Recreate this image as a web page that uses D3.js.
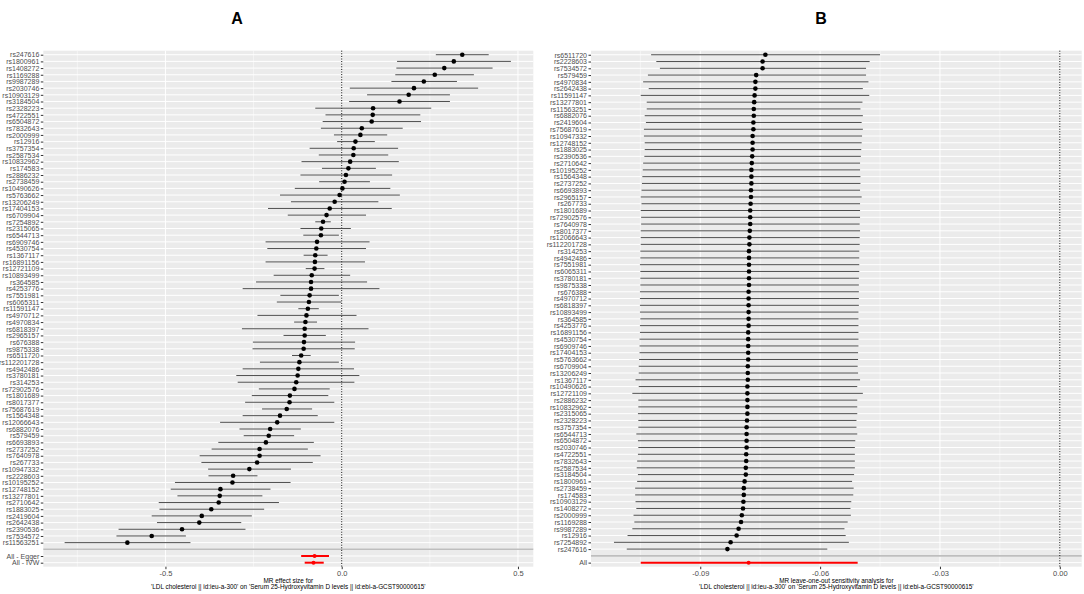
<!DOCTYPE html>
<html lang="en">
<head>
<meta charset="UTF-8">
<title>MR forest plots</title>
<script src="https://d3js.org/d3.v7.min.js"></script>
<style>
  body { margin: 0; background: #fff; font-family: "Liberation Sans", Arial, sans-serif; }
  svg { display: block; }
  .tick text { fill: #4d4d4d; }
  .tick line { stroke: #333; }
  .domain { display: none; }
  .grid-major { stroke: #fff; stroke-width: 1; }
  .grid-minor { stroke: #fff; stroke-width: 0.5; }
</style>
</head>
<body>
<svg width="1084" height="594"></svg>
<script>
// ---- Panel A: single SNP MR effects ----
const snpsA = ["rs247616","rs1800961","rs1408272","rs1169288","rs9987289","rs2030746","rs10903129","rs3184504","rs2328223","rs4722551",
  "rs6504872","rs7832643","rs2000999","rs12916","rs3757354","rs2587534","rs10832962","rs174583","rs2886232","rs2738459",
  "rs10490626","rs5763662","rs13206249","rs17404153","rs6709904","rs7254892","rs2315065","rs6544713","rs6909746","rs4530754",
  "rs1367117","rs16891156","rs12721109","rs10893499","rs364585","rs4253776","rs7551981","rs6065311","rs11591147","rs4970712",
  "rs4970834","rs6818397","rs2965157","rs676388","rs9875338","rs6511720","rs112201728","rs4942486","rs3780181","rs314253",
  "rs72902576","rs1801689","rs8017377","rs75687619","rs1564348","rs12066643","rs6882076","rs579459","rs6693893","rs2737252",
  "rs7640978","rs267733","rs10947332","rs2228603","rs10195252","rs12748152","rs13277801","rs2710642","rs1883025","rs2419604",
  "rs2642438","rs2390536","rs7534572","rs11563251"];
const betaA = [0.342, 0.318, 0.291, 0.264, 0.233, 0.205, 0.190, 0.164, 0.089, 0.088,
  0.085, 0.057, 0.053, 0.039, 0.034, 0.033, 0.024, 0.019, 0.012, 0.008,
  0.002, -0.006, -0.020, -0.034, -0.043, -0.053, -0.058, -0.059, -0.070, -0.072,
  -0.075, -0.076, -0.077, -0.085, -0.087, -0.087, -0.091, -0.093, -0.096, -0.100,
  -0.103, -0.105, -0.105, -0.107, -0.108, -0.115, -0.120, -0.123, -0.125, -0.129,
  -0.134, -0.147, -0.148, -0.156, -0.175, -0.183, -0.203, -0.207, -0.215, -0.233,
  -0.233, -0.240, -0.262, -0.308, -0.310, -0.344, -0.346, -0.349, -0.370, -0.397,
  -0.404, -0.453, -0.539, -0.608];
const lowA = [0.267, 0.157, 0.155, 0.152, 0.141, 0.023, 0.072, 0.021, -0.075, -0.046,
  -0.054, -0.059, -0.022, -0.013, -0.091, -0.065, -0.114, -0.056, -0.117, -0.064,
  -0.133, -0.175, -0.144, -0.209, -0.153, -0.075, -0.117, -0.109, -0.216, -0.211,
  -0.108, -0.216, -0.102, -0.193, -0.243, -0.281, -0.174, -0.184, -0.123, -0.239,
  -0.135, -0.283, -0.165, -0.252, -0.253, -0.141, -0.232, -0.281, -0.299, -0.295,
  -0.235, -0.255, -0.274, -0.226, -0.281, -0.345, -0.290, -0.278, -0.350, -0.369,
  -0.403, -0.398, -0.379, -0.378, -0.473, -0.485, -0.466, -0.519, -0.517, -0.539,
  -0.524, -0.633, -0.639, -0.786];
const highA = [0.417, 0.480, 0.428, 0.375, 0.327, 0.387, 0.307, 0.307, 0.254, 0.223,
  0.225, 0.173, 0.129, 0.094, 0.160, 0.132, 0.162, 0.097, 0.143, 0.080,
  0.138, 0.165, 0.104, 0.142, 0.069, -0.031, 0.026, -0.008, 0.079, 0.069,
  -0.040, 0.066, -0.049, 0.024, 0.072, 0.107, -0.008, -0.001, -0.065, 0.042,
  -0.070, 0.076, -0.045, 0.038, 0.037, -0.088, -0.008, 0.035, 0.050, 0.036,
  -0.034, -0.038, -0.021, -0.084, -0.068, -0.021, -0.116, -0.135, -0.079, -0.096,
  -0.060, -0.082, -0.144, -0.239, -0.145, -0.202, -0.225, -0.178, -0.220, -0.255,
  -0.285, -0.273, -0.442, -0.429];
const sumNamesA = ["All - Egger", "All - IVW"];
const sumBetaA = [-0.077, -0.080];
const sumLowA = [-0.115, -0.105];
const sumHighA = [-0.036, -0.051];
const ticksA = [-0.5, 0, 0.5];

// ---- Panel B: leave-one-out ----
const snpsB = ["rs6511720","rs2228603","rs7534572","rs579459","rs4970834","rs2642438","rs11591147","rs13277801","rs11563251","rs6882076",
  "rs2419604","rs75687619","rs10947332","rs12748152","rs1883025","rs2390536","rs2710642","rs10195252","rs1564348","rs2737252",
  "rs6693893","rs2965157","rs267733","rs1801689","rs72902576","rs7640978","rs8017377","rs12066643","rs112201728","rs314253",
  "rs4942486","rs7551981","rs6065311","rs3780181","rs9875338","rs676388","rs4970712","rs6818397","rs10893499","rs364585",
  "rs4253776","rs16891156","rs4530754","rs6909746","rs17404153","rs5763662","rs6709904","rs13206249","rs1367117","rs10490626",
  "rs12721109","rs2886232","rs10832962","rs2315065","rs2328223","rs3757354","rs6544713","rs6504872","rs2030746","rs4722551",
  "rs7832643","rs2587534","rs3184504","rs1800961","rs2738459","rs174583","rs10903129","rs1408272","rs2000999","rs1169288",
  "rs9987289","rs12916","rs7254892","rs247616"];
const betaB = [-0.0737, -0.0744, -0.0744, -0.0760, -0.0762, -0.0762, -0.0764, -0.0765, -0.0766, -0.0766,
  -0.0767, -0.0767, -0.0769, -0.0769, -0.0769, -0.0770, -0.0771, -0.0772, -0.0772, -0.0772,
  -0.0773, -0.0773, -0.0774, -0.0775, -0.0775, -0.0775, -0.0776, -0.0777, -0.0777, -0.0778,
  -0.0778, -0.0778, -0.0778, -0.0778, -0.0778, -0.0779, -0.0779, -0.0779, -0.0779, -0.0779,
  -0.0779, -0.0780, -0.0780, -0.0780, -0.0780, -0.0780, -0.0781, -0.0781, -0.0781, -0.0782,
  -0.0782, -0.0782, -0.0782, -0.0782, -0.0783, -0.0784, -0.0784, -0.0784, -0.0784, -0.0785,
  -0.0785, -0.0786, -0.0786, -0.0789, -0.0791, -0.0791, -0.0792, -0.0793, -0.0796, -0.0798,
  -0.0804, -0.0809, -0.0824, -0.0832];
const lowB = [-0.1023, -0.1010, -0.1001, -0.1031, -0.1043, -0.1029, -0.1049, -0.1034, -0.1034, -0.1039,
  -0.1036, -0.1041, -0.1041, -0.1039, -0.1039, -0.1040, -0.1043, -0.1044, -0.1045, -0.1046,
  -0.1047, -0.1049, -0.1047, -0.1049, -0.1048, -0.1048, -0.1049, -0.1049, -0.1049, -0.1050,
  -0.1050, -0.1051, -0.1050, -0.1050, -0.1050, -0.1051, -0.1051, -0.1051, -0.1051, -0.1050,
  -0.1051, -0.1051, -0.1052, -0.1052, -0.1052, -0.1053, -0.1054, -0.1054, -0.1062, -0.1054,
  -0.1070, -0.1055, -0.1055, -0.1056, -0.1055, -0.1055, -0.1060, -0.1056, -0.1055, -0.1056,
  -0.1058, -0.1059, -0.1056, -0.1058, -0.1063, -0.1063, -0.1062, -0.1060, -0.1067, -0.1065,
  -0.1070, -0.1082, -0.1116, -0.1084];
const highB = [-0.0450, -0.0476, -0.0485, -0.0485, -0.0479, -0.0493, -0.0477, -0.0494, -0.0499, -0.0493,
  -0.0496, -0.0493, -0.0495, -0.0496, -0.0497, -0.0498, -0.0500, -0.0500, -0.0499, -0.0499,
  -0.0500, -0.0496, -0.0500, -0.0500, -0.0500, -0.0501, -0.0500, -0.0501, -0.0501, -0.0502,
  -0.0502, -0.0502, -0.0502, -0.0503, -0.0503, -0.0503, -0.0503, -0.0503, -0.0504, -0.0504,
  -0.0504, -0.0504, -0.0504, -0.0504, -0.0505, -0.0505, -0.0506, -0.0505, -0.0500, -0.0507,
  -0.0493, -0.0507, -0.0507, -0.0507, -0.0509, -0.0509, -0.0507, -0.0512, -0.0513, -0.0513,
  -0.0513, -0.0513, -0.0515, -0.0520, -0.0516, -0.0517, -0.0522, -0.0524, -0.0523, -0.0531,
  -0.0539, -0.0536, -0.0528, -0.0582];
const sumNamesB = ["All"];
const sumBetaB = [-0.0779];
const sumLowB = [-0.1049];
const sumHighB = [-0.0506];
const ticksB = [-0.09, -0.06, -0.03, 0];

const exposureLine = "'LDL cholesterol || id:ieu-a-300' on 'Serum 25-Hydroxyvitamin D levels || id:ebi-a-GCST90000615'";

const svg = d3.select('svg');
const FONT = '"Liberation Sans", Arial, sans-serif';

function drawPanel(p) {
  const g = svg.append('g');
  const top = 50.7, bottom = 566.7;

  const x = d3.scaleLinear().domain(p.xDomain).range([p.left, p.right]);

  // blank category between the SNP rows and the summary rows
  const rows = p.snps.map((s, i) => ({ name: s, b: p.beta[i], lo: p.low[i], hi: p.high[i] }));
  const sums = p.sumNames.map((s, i) => ({ name: s, b: p.sumBeta[i], lo: p.sumLow[i], hi: p.sumHigh[i] }));
  const cats = p.snps.concat(['_sep'], p.sumNames);
  const y = d3.scalePoint().domain(cats).range([top, bottom]).padding(0.6);

  // panel background
  g.append('rect').attr('x', p.left).attr('y', top)
    .attr('width', p.right - p.left).attr('height', bottom - top).attr('fill', '#ebebeb');

  // minor vertical grid (midpoints between ticks)
  const step = p.ticks[1] - p.ticks[0];
  const minor = [];
  for (let v = p.ticks[0] - step / 2; v <= p.xDomain[1]; v += step) {
    if (v >= p.xDomain[0]) minor.push(v);
  }
  g.selectAll('.gm').data(minor).enter().append('line')
    .attr('class', 'grid-minor')
    .attr('x1', d => x(d)).attr('x2', d => x(d)).attr('y1', top).attr('y2', bottom);

  g.selectAll('.gx').data(p.ticks).enter().append('line')
    .attr('class', 'grid-major')
    .attr('x1', d => x(d)).attr('x2', d => x(d)).attr('y1', top).attr('y2', bottom);

  g.selectAll('.gy').data(cats).enter().append('line')
    .attr('class', 'grid-major')
    .attr('x1', p.left).attr('x2', p.right).attr('y1', d => y(d)).attr('y2', d => y(d));

  // separator line
  g.append('line')
    .attr('x1', p.left).attr('x2', p.right)
    .attr('y1', y('_sep')).attr('y2', y('_sep'))
    .attr('stroke', '#bebebe').attr('stroke-width', 1.6);

  // zero reference line
  g.append('line')
    .attr('x1', x(0)).attr('x2', x(0)).attr('y1', top).attr('y2', bottom)
    .attr('stroke', '#000').attr('stroke-width', 1).attr('stroke-dasharray', '1,1.6');

  // confidence intervals and estimates
  g.selectAll('.ci').data(rows).enter().append('line')
    .attr('x1', d => x(d.lo)).attr('x2', d => x(d.hi))
    .attr('y1', d => y(d.name)).attr('y2', d => y(d.name))
    .attr('stroke', '#3a3a3a').attr('stroke-width', 0.9);
  g.selectAll('.pt').data(rows).enter().append('circle')
    .attr('cx', d => x(d.b)).attr('cy', d => y(d.name)).attr('r', 2.3).attr('fill', '#000');

  g.selectAll('.sci').data(sums).enter().append('line')
    .attr('x1', d => x(d.lo)).attr('x2', d => x(d.hi))
    .attr('y1', d => y(d.name)).attr('y2', d => y(d.name))
    .attr('stroke', '#ff0000').attr('stroke-width', 2);
  g.selectAll('.spt').data(sums).enter().append('circle')
    .attr('cx', d => x(d.b)).attr('cy', d => y(d.name)).attr('r', 2).attr('fill', '#ff0000');

  // axes
  const yAxis = g.append('g')
    .attr('transform', `translate(${p.left},0)`)
    .call(d3.axisLeft(y).tickSize(2.5).tickPadding(1.5).tickFormat(d => d === '_sep' ? '' : d));
  yAxis.selectAll('.tick').filter(d => d === '_sep').remove();
  yAxis.selectAll('text').attr('font-family', FONT).attr('font-size', 7);

  const xAxis = g.append('g')
    .attr('transform', `translate(0,${bottom})`)
    .call(d3.axisBottom(x).tickValues(p.ticks).tickSize(2.5).tickPadding(1)
      .tickFormat(d => d.toFixed(p.digits)));
  xAxis.selectAll('text').attr('font-family', FONT).attr('font-size', 7.5);

  // axis title (two lines)
  const t = g.append('text').attr('text-anchor', 'middle')
    .attr('font-family', FONT).attr('font-size', 6.4).attr('fill', '#000');
  t.append('tspan').attr('x', (p.left + p.right) / 2).attr('y', 583.3).text(p.xTitle);
  t.append('tspan').attr('x', (p.left + p.right) / 2).attr('y', 589.3).text(exposureLine);

  // panel letter
  svg.append('text').attr('x', p.letterX).attr('y', 24)
    .attr('text-anchor', 'middle').attr('font-family', FONT)
    .attr('font-weight', 'bold').attr('font-size', 16).text(p.letter);
}

drawPanel({
  letter: 'A', letterX: 237,
  left: 43.3, right: 533.3, xDomain: [-0.8465, 0.5435], ticks: ticksA, digits: 1,
  snps: snpsA, beta: betaA, low: lowA, high: highA,
  sumNames: sumNamesA, sumBeta: sumBetaA, sumLow: sumLowA, sumHigh: sumHighA,
  xTitle: 'MR effect size for'
});

drawPanel({
  letter: 'B', letterX: 821,
  left: 591, right: 1081.7, xDomain: [-0.11735, 0.00548], ticks: ticksB, digits: 2,
  snps: snpsB, beta: betaB, low: lowB, high: highB,
  sumNames: sumNamesB, sumBeta: sumBetaB, sumLow: sumLowB, sumHigh: sumHighB,
  xTitle: 'MR leave-one-out sensitivity analysis for'
});
</script>
</body>
</html>
